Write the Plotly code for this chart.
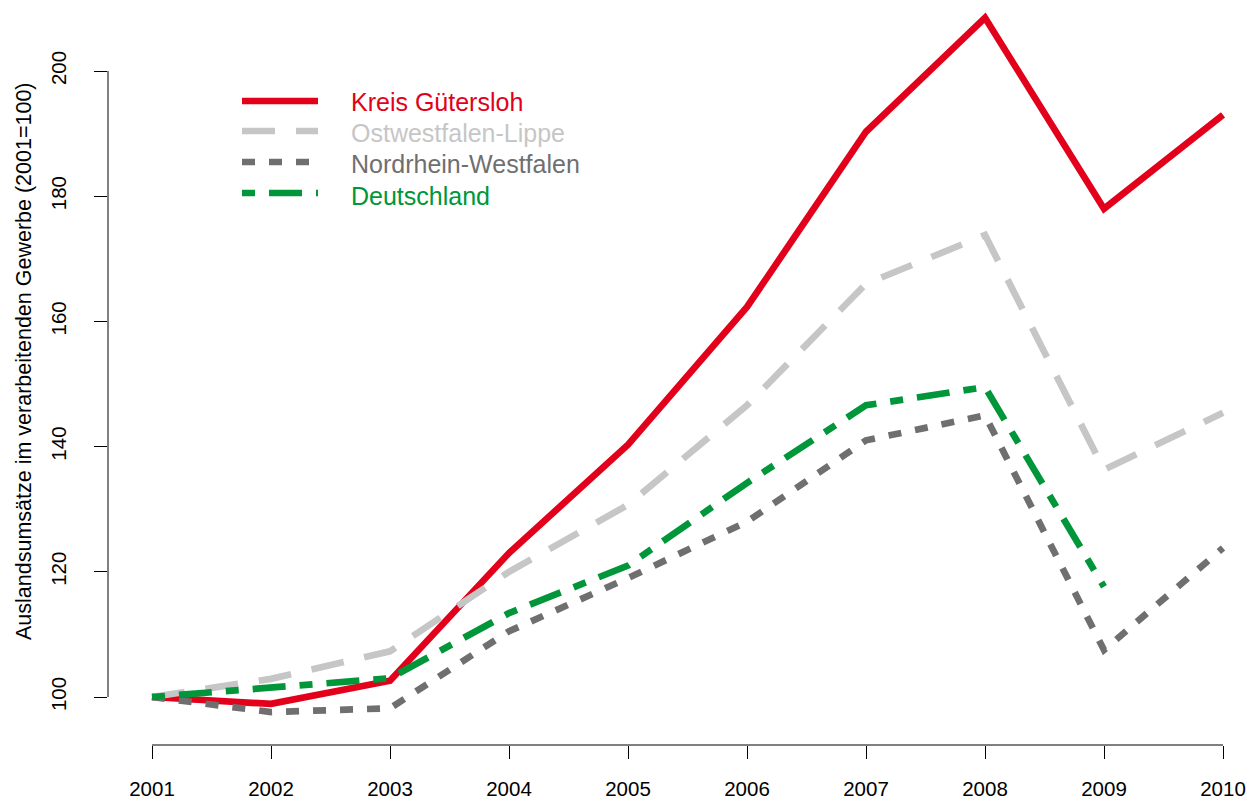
import plotly.graph_objects as go

# ---------------- data ----------------
years = [2001, 2002, 2003, 2004, 2005, 2006, 2007, 2008, 2009, 2010]
kreis_guetersloh = [100, 98.9, 102.6, 123.0, 140.3, 162.3, 190.3, 208.5, 178.0, 193.0]
ostwestfalen_lippe = [100, 102.9, 107.3, 120.0, 130.7, 146.6, 166.0, 173.8, 136.3, 145.4]
nordrhein_westfalen = [100, 97.6, 98.2, 110.5, 119.0, 128.0, 141.0, 145.0, 107.5, 123.8]
deutschland = [100, 101.4, 103.0, 113.4, 121.0, 134.2, 146.6, 149.5, 117.6, None]

series_names = ["Kreis Gütersloh", "Ostwestfalen-Lippe", "Nordrhein-Westfalen", "Deutschland"]
y_ticks = [100, 120, 140, 160, 180, 200]
x_ticks = years
y_title = "Auslandsumsätze im verarbeitenden Gewerbe (2001=100)"

# ---------------- styles ----------------
colors = ["#E2001A", "#C6C6C6", "#6F6F70", "#009639"]
dashes = ["solid", "33px,21px", "13px,14px", "13px,14px,33px,14px"]
LW = 6.7
FONT = "Liberation Sans, Arial, sans-serif"

W, H = 1249, 799
L, R, T, B = 108, 1245, 4, 745            # plot area in pixels
x0px, x1px = 152, 1223                    # 2001, 2010
y0px, y1px = 697, 71                      # 100, 200
pxx = (x1px - x0px) / (x_ticks[-1] - x_ticks[0])
pxy = (y0px - y1px) / (y_ticks[-1] - y_ticks[0])
xr = [x_ticks[0] - (x0px - L) / pxx, x_ticks[-1] + (R - x1px) / pxx]
yr = [y_ticks[0] - (B - y0px) / pxy, y_ticks[-1] + (y1px - T) / pxy]


def px_x(p):
    return (p - L) / (R - L)


def px_y(p):
    return (B - p) / (B - T)


all_series = [kreis_guetersloh, ostwestfalen_lippe, nordrhein_westfalen, deutschland]

fig = go.Figure()
for name, vals, c, d in zip(series_names, all_series, colors, dashes):
    fig.add_trace(go.Scatter(
        x=years, y=vals, mode="lines", name=name,
        line=dict(color=c, width=LW, dash=d),
        showlegend=False, connectgaps=False, hoverinfo="skip",
    ))

shapes = []
# R-style axis lines (from first to last tick)
shapes.append(dict(type="line", xref="x", yref="paper", x0=x_ticks[0], x1=x_ticks[-1],
                   y0=0, y1=0, line=dict(color="black", width=1)))
shapes.append(dict(type="line", xref="paper", yref="y", x0=0, x1=0,
                   y0=y_ticks[0], y1=y_ticks[-1], line=dict(color="black", width=1)))

# manual legend
annotations = []
leg_line_y = [101, 131, 162, 193]
leg_text_y = [102, 133, 164, 196]
for i, (name, c, d) in enumerate(zip(series_names, colors, dashes)):
    shapes.append(dict(type="line", xref="paper", yref="paper",
                       x0=px_x(242), x1=px_x(318), y0=px_y(leg_line_y[i]), y1=px_y(leg_line_y[i]),
                       line=dict(color=c, width=LW, dash=d)))
    annotations.append(dict(xref="paper", yref="paper", x=px_x(349), y=px_y(leg_text_y[i]),
                            xanchor="left", yanchor="middle", showarrow=False, text=name,
                            font=dict(family=FONT, size=25, color=c)))

annotations.append(dict(xref="paper", yref="paper", x=px_x(24), y=px_y(361),
                        xanchor="center", yanchor="middle", showarrow=False, text=y_title,
                        textangle=-90, font=dict(family=FONT, size=21.5, color="black")))

fig.update_layout(
    width=W, height=H, autosize=False,
    margin=dict(l=L, r=W - R, t=T, b=H - B, pad=0, autoexpand=False),
    paper_bgcolor="white", plot_bgcolor="white",
    font=dict(family=FONT, size=20, color="black"),
    shapes=shapes, annotations=annotations,
    xaxis=dict(range=xr, tickmode="array", tickvals=x_ticks, ticktext=[str(v) for v in x_ticks],
               ticks="outside", ticklen=13, tickwidth=1, tickcolor="black",
               showgrid=False, zeroline=False, showline=False, automargin=False,
               tickfont=dict(size=20.5), ticklabelstandoff=12),
    yaxis=dict(range=yr, tickmode="array", tickvals=y_ticks, ticktext=[str(v) for v in y_ticks],
               ticks="outside", ticklen=13, tickwidth=1, tickcolor="black",
               showgrid=False, zeroline=False, showline=False, tickangle=-90, automargin=False,
               tickfont=dict(size=20.5), ticklabelstandoff=20),
)

fig.write_html(
    "out.html",
    config={"responsive": False, "displayModeBar": False},
    post_script="document.documentElement.style.margin='0';document.body.style.margin='0';"
                "document.body.style.padding='0';document.body.style.overflow='hidden';",
)
